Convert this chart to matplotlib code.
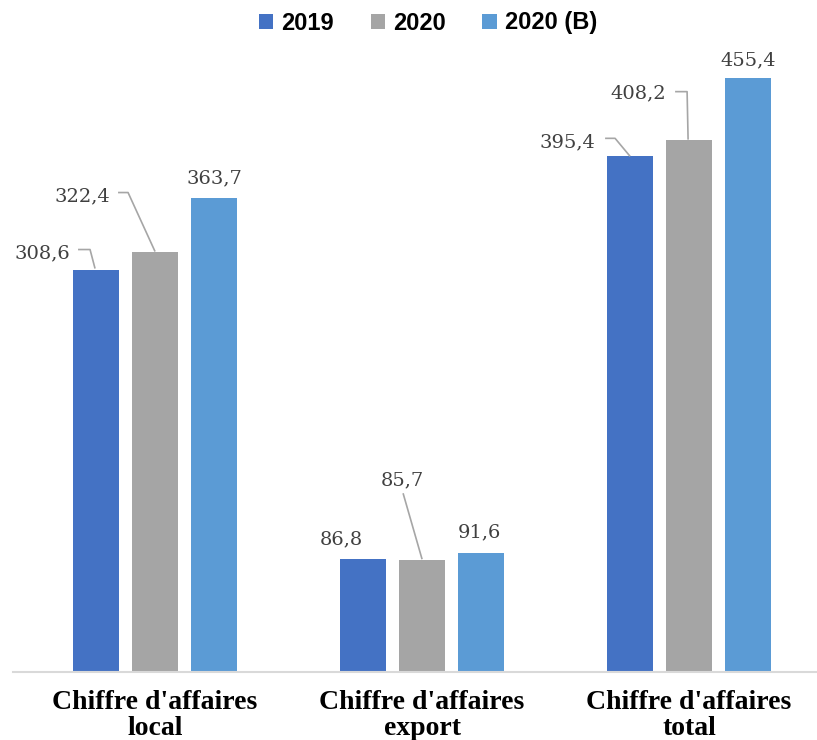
import matplotlib
matplotlib.use("Agg")
import matplotlib.pyplot as plt
import numpy as np

categories = ["Chiffre d'affaires\nlocal", "Chiffre d'affaires\nexport", "Chiffre d'affaires\ntotal"]
series_names = ["2019", "2020", "2020 (B)"]
v2019 = [308.6, 86.8, 395.4]
v2020 = [322.4, 85.7, 408.2]
v2020b = [363.7, 91.6, 455.4]
values = [v2019, v2020, v2020b]
colors = ["#4472C4", "#A5A5A5", "#5B9BD5"]

W, H = 817, 740
fig = plt.figure(figsize=(W / 100, H / 100), dpi=100)
ax_left_px, ax_right_px = 13, 817
ax_bottom_px, ax_top_px = 672, 46
ax = fig.add_axes([ax_left_px / W, (H - ax_bottom_px) / H,
                   (ax_right_px - ax_left_px) / W, (ax_bottom_px - ax_top_px) / H])
xlim = (-0.532, 2.479)
ylim = (0, 480)
ax.set_xlim(*xlim)
ax.set_ylim(*ylim)

x = np.arange(len(categories))
width = 0.172
step = 0.221
for i, (vals, c, name) in enumerate(zip(values, colors, series_names)):
    ax.bar(x + (i - 1) * step, vals, width, color=c, label=name, zorder=2)

px_x = (ax_right_px - ax_left_px) / (xlim[1] - xlim[0])
px_y = (ax_bottom_px - ax_top_px) / (ylim[1] - ylim[0])

# label text offsets (pixels) and leader line offsets (pixels), per [series][category]
text_off = [
    [(-54, 16), (-22, 19), (-63, 14)],
    [(-73, 55), (-20, 80), (-51, 46)],
    [(0, 19), (-2, 20), (0, 18)],
]
leaders = [
    [[(-18, 20), (-6, 20), (-1, 1)], None, [(-25, 18), (-15, 18), (0, 0)]],
    [[(-37, 59), (-27, 59), (0, 0)], [(-19, 67), (0, 1)], [(-14, 48), (-2, 48), (-1, 0)]],
    [None, None, None],
]
lab_font = dict(family=["DejaVu Serif"], fontsize=14, color="#404040")
for i, vals in enumerate(values):
    for j, v in enumerate(vals):
        bx = x[j] + (i - 1) * step
        ax.annotate(f"{v:.1f}".replace(".", ","), xy=(bx, v), xytext=text_off[i][j],
                    textcoords="offset pixels", ha="center", va="center", **lab_font)
        if leaders[i][j] is not None:
            pts = leaders[i][j]
            lx = [bx + p[0] / px_x for p in pts]
            ly = [v + p[1] / px_y for p in pts]
            ax.plot(lx, ly, color="#A6A6A6", lw=1.2, zorder=3, solid_capstyle="butt")

for s in ["top", "right", "left"]:
    ax.spines[s].set_visible(False)
ax.spines["bottom"].set_color("#D9D9D9")
ax.spines["bottom"].set_linewidth(1.5)
ax.set_yticks([])
ax.set_xticks(x)
ax.set_xticklabels(categories, fontfamily="Liberation Serif", fontweight="bold",
                   fontsize=20, linespacing=1.05)
ax.tick_params(axis="x", length=0, pad=13)

fig.legend(loc="center", bbox_to_anchor=(428 / W, (H - 23) / H), ncol=3, frameon=False,
           prop=dict(family="Liberation Sans", weight="bold", size=17),
           handlelength=0.6, handleheight=0.6, handletextpad=0.35, columnspacing=1.55)

fig.savefig("out.png", dpi=100)
